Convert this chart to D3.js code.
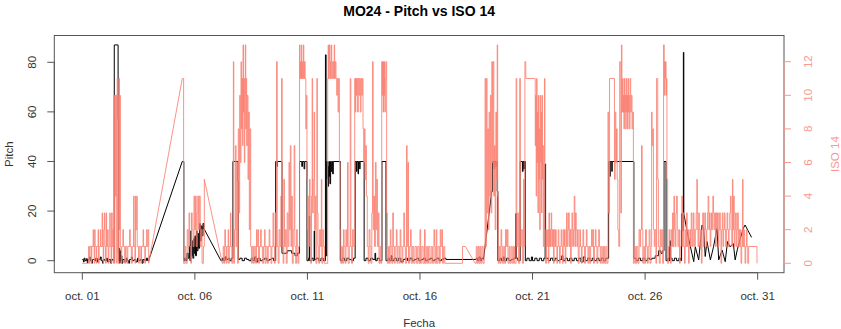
<!DOCTYPE html>
<html>
<head>
<meta charset="utf-8">
<script src="https://cdn.jsdelivr.net/npm/d3@7"></script>
<style>
html,body{margin:0;padding:0;background:#fff;}
svg{display:block;font-family:"Liberation Sans",Arial,sans-serif;}
</style>
</head>
<body>
<svg id="chart" width="841" height="329"></svg>
<script>
// ---- DATA (time = days since oct. 01 00:00; third element 1 = joined by straight line across a data gap) ----
const chartTitle = "MO24 - Pitch vs ISO 14";
const xLabel = "Fecha";
const leftLabel = "Pitch";
const rightLabel = "ISO 14";
const xTickDays = [0, 5, 10, 15, 20, 25, 30];
const pitchTicks = [0, 20, 40, 60, 80];
const isoTicks = [0, 2, 4, 6, 8, 10, 12];

const pitchSeries = [
[0.00,0.5],[0.05,-0.5],[0.08,1],[0.12,0],[0.18,0.8],[0.22,-0.8],[0.25,0.5],[0.32,1.5],[0.35,0],[0.42,-1],[0.45,0.5],[0.55,0],[0.60,1],[0.66,-0.5],[0.70,0.5],[0.80,1.5],[0.84,0],[0.90,-1],[0.93,0.5],[1.00,0],[1.08,1],[1.12,-0.5],[1.18,0.5],[1.26,-1],[1.30,0.5],[1.36,0],
[1.42,87],[1.58,87],[1.59,57],[1.60,3],[1.62,0],[1.64,5],[1.66,-1],[1.68,4],[1.70,0],[1.73,2],[1.76,-1],[1.80,0.5],
[1.88,-0.5],[1.95,1],[2.00,0],[2.06,-1],[2.10,0.5],[2.18,1.5],[2.22,0],[2.30,0.5],[2.38,-0.5],[2.45,1],[2.50,0],[2.58,0.5],[2.66,-1],[2.70,0.5],[2.78,0],[2.85,1],[2.90,0],[2.96,0.5],
[4.44,40,1],[4.51,0],
[4.55,1],[4.60,0],[4.65,3],[4.70,1],[4.75,6],[4.78,0],[4.82,12],[4.84,2],[4.88,8],[4.91,1],[4.95,9],[4.97,3],[5.00,10],[5.03,2],[5.07,12],[5.10,4],[5.14,11],[5.17,5],[5.21,15],[5.24,8],[5.28,14],[5.32,10],[5.36,15],[5.40,13],
[6.16,0,1],[6.22,1],[6.28,0],[6.34,1.5],[6.40,0.5],[6.48,1],[6.55,0],[6.62,1],
[6.69,40],[6.91,32],[6.93,0.5],
[7.00,1],[7.10,0],[7.20,1],[7.30,0.5],[7.40,0],[7.50,1],[7.58,0],[7.65,1.5],[7.72,-0.5],[7.80,1],[7.90,0],[8.00,0.5],[8.10,1],[8.20,0],[8.30,0.5],[8.40,1],[8.50,0],
[8.59,40],[8.65,38],[8.67,40],[8.87,3],[9.10,4],[9.30,3],[9.45,2],[9.55,3],
[9.65,40],[9.75,38],[9.78,40],[9.85,37],[9.88,40],[9.98,0],
[10.05,1],[10.08,18],[10.10,0],[10.18,1],[10.25,0],[10.30,12],[10.32,0.5],[10.40,1],[10.50,0],[10.60,1],[10.70,0],
[10.80,83],[10.83,2],[10.86,40],[10.88,33],[10.90,40],[10.92,30],[10.94,38],[10.96,34],[10.98,40],[11.00,31],[11.03,40],[11.06,36],[11.09,40],[11.12,35],[11.15,40],[11.46,0],
[11.55,1],[11.65,0],[11.75,1],[11.85,0.5],[11.95,0],[12.05,1],
[12.12,40],[12.18,36],[12.20,40],[12.25,35],[12.27,40],[12.32,37],[12.34,40],[12.52,0],
[12.60,1],[12.70,0],[12.80,1],[12.90,0.5],[13.00,3],[13.03,0],[13.10,1],[13.20,0],
[13.31,40],[13.49,0],
[13.58,1],[13.65,0],[13.72,2],[13.76,0],[13.85,1],[13.95,0],[14.05,1],[14.15,-0.5],[14.25,0.5],[14.35,1],[14.45,0],[14.55,1],[14.65,0],[14.75,0.5],[14.85,1],[14.95,0],[15.05,0.5],[15.15,1],[15.25,0],[15.35,0.5],[15.45,1],[15.55,0],[15.65,0.5],[15.75,1],[15.85,0],[15.95,0.5],[16.05,1],[16.15,0.5],
[17.45,0.5,1],[17.50,1],[17.56,0],[17.62,1.5],[17.68,0],[17.74,1],[17.82,0.5],
[18.19,28,1],[18.23,40],[18.30,37],[18.32,40],[18.38,38],[18.40,40],[18.43,28],[18.46,0],
[18.55,1],[18.62,0],[18.70,1.5],[18.75,0],[18.85,1],[18.95,0],[19.05,0.5],[19.15,1],[19.26,19],[19.28,1],[19.35,0],
[19.45,40],[19.55,36],[19.58,40],[19.62,37],[19.64,40],[19.68,0],
[19.75,1],[19.85,0],[19.95,1.5],[20.00,0],[20.10,1],[20.20,0],[20.30,1],[20.40,0],[20.50,1],
[20.56,39],[20.58,1],
[20.70,0],[20.80,1],[20.90,0],[21.00,1],[21.10,0],[21.20,0.5],[21.30,2],[21.35,0],[21.45,1],[21.55,0],[21.65,1],[21.75,0],[21.85,1],[21.95,0],[22.05,1],[22.15,-0.5],[22.25,1.5],[22.35,0],[22.45,1],[22.55,0],[22.65,1],[22.75,0],[22.85,1],[22.95,0],[23.05,1],[23.15,0],[23.25,1],
[23.38,40],[23.43,34],[23.45,40],[23.52,36],[23.54,40],[24.50,1],
[24.60,0],[24.70,1],[24.80,0],[24.90,1],[25.00,0],[25.10,1],[25.20,0.5],[25.30,1],[25.45,2],[25.60,4],[25.70,3],[25.78,4],
[25.84,40],[25.93,0],
[26.00,1],[26.06,0],[26.10,8],[26.13,1],[26.20,0],[26.30,1],[26.40,0],[26.50,1],[26.58,0],[26.62,19],[26.66,12],[26.70,84],[26.72,19],
[26.86,12,1],[27.16,-0.4,1],[27.23,5.6,1],[27.38,0.3,1],[27.53,14.4,1],[27.60,13,1],[27.67,1.7,1],[27.75,7.7,1],[27.90,0.3,1],[28.04,5.6,1],[28.19,13,1],[28.27,0.3,1],[28.42,4.3,1],[28.56,-0.4,1],[28.66,7.7,1],[28.77,5.6,1],[28.92,6.9,1],[29.00,0.3,1],[29.10,4.6,1],[29.21,8.3,1],[29.36,13,1],[29.44,14.4,1],[29.73,9.4,1]
];

const isoSeries = [
[0.00,0],[0.28,1],[0.31,0],[0.34,1],[0.40,0],[0.42,1],[0.48,2],[0.50,1],[0.53,0],[0.55,2],[0.57,1],[0.62,0],[0.64,1],[0.70,2],[0.72,0],[0.75,1],[0.80,2],[0.82,1],[0.88,3],[0.90,1],[0.93,0],[0.95,2],[0.98,3],[1.00,1],[1.03,0],[1.06,3],[1.08,1],[1.12,2],[1.15,0],[1.18,1],[1.22,3],[1.24,1],[1.28,0],[1.30,3],[1.33,1],[1.36,2],[1.38,0],
[1.40,10],[1.43,0],[1.45,10],[1.48,4],[1.50,10],[1.53,0],[1.55,11],[1.58,10],[1.61,0],[1.63,11],[1.65,2],[1.67,10],[1.69,1],
[1.72,0],[1.75,1],[1.80,2],[1.83,1],[1.88,0],[1.92,1],[1.98,0],[2.02,1],[2.10,2],[2.13,1],[2.18,0],[2.22,1],[2.28,4],[2.30,1],[2.34,0],[2.36,4],[2.38,2],[2.42,4],[2.44,1],[2.50,0],[2.53,1],[2.60,0],[2.63,1],[2.70,2],[2.72,1],[2.78,0],[2.80,1],[2.86,2],[2.88,1],[2.92,2],[2.95,0],
[4.44,11,1],[4.50,0],
[4.56,1],[4.60,0],[4.66,2],[4.70,1],[4.74,3],[4.77,1],[4.82,0],[4.85,3],[4.88,2],[4.92,1],[4.96,4],[4.99,2],[5.03,4],[5.06,1],[5.10,3],[5.13,4],[5.16,2],[5.20,4],[5.24,1],[5.28,2],[5.32,0],[5.38,1],[5.42,5],
[6.22,0,1],[6.26,1],[6.30,0],[6.33,2],[6.36,1],[6.40,0],[6.43,1],[6.48,2],[6.50,0],[6.53,1],[6.58,3],[6.60,1],[6.64,0],[6.68,1],
[6.71,12],[6.73,0],[6.76,2],[6.80,7],[6.83,1],[6.86,6],[6.90,0],[6.93,8],[6.96,3],[6.99,10],[7.02,6],[7.05,12],[7.07,8],[7.10,11],[7.12,7],[7.14,13],[7.16,9],[7.18,11],[7.20,6],[7.22,10],[7.24,13],[7.26,8],[7.28,11],[7.30,7],[7.33,10],[7.36,5],[7.39,9],[7.42,2],[7.45,8],[7.48,1],[7.52,0],
[7.55,1],[7.60,0],[7.64,1],[7.70,0],[7.74,2],[7.76,1],[7.80,2],[7.83,0],[7.87,1],[7.92,2],[7.95,1],[8.00,0],[8.05,1],[8.10,2],[8.12,0],[8.16,1],[8.22,0],[8.26,1],[8.30,2],[8.33,1],[8.38,0],[8.42,1],[8.47,3],[8.50,1],[8.54,0],
[8.57,3],[8.60,1],[8.63,12],[8.66,1],[8.70,0],[8.74,2],[8.78,1],[8.82,4],[8.85,11],[8.88,1],[8.92,0],[8.95,5],[8.98,1],[9.02,2],[9.06,0],[9.10,3],[9.14,1],[9.18,6],[9.21,2],[9.24,7],[9.27,1],[9.30,4],[9.33,0],[9.37,2],[9.41,7],[9.44,1],[9.48,0],[9.52,2],[9.55,1],[9.58,0],[9.62,1],
[9.65,13],[9.67,11],[9.69,12],[9.71,11],[9.73,13],[9.75,11],[9.77,12],[9.79,11],[9.82,13],[9.84,11],[9.87,12],[9.90,11],[9.93,8],[9.95,10],[9.98,5],[10.00,2],
[10.03,4],[10.06,1],[10.09,5],[10.12,3],[10.15,0],[10.18,4],[10.21,11],[10.23,3],[10.26,5],[10.30,9],[10.32,2],[10.35,4],[10.38,0],[10.42,11],[10.44,3],[10.47,1],[10.50,0],[10.54,2],[10.58,1],[10.62,5],[10.64,0],[10.68,2],[10.72,1],[10.76,0],
[10.90,11],[10.92,13],[10.94,11],[10.96,12],[10.98,13],[11.00,11],[11.02,12],[11.04,11],[11.06,13],[11.08,12],[11.10,11],[11.13,12],[11.16,11],[11.19,13],[11.21,11],[11.24,12],[11.27,11],[11.30,10],[11.33,11],[11.36,9],[11.39,11],[11.42,6],[11.45,2],
[11.48,0],[11.52,1],[11.56,0],[11.60,2],[11.63,1],[11.67,0],[11.71,2],[11.74,1],[11.78,6],[11.81,0],[11.86,1],[11.90,11],[11.93,1],[11.96,0],[12.00,2],[12.04,1],
[12.10,11],[12.13,9],[12.15,11],[12.18,10],[12.20,11],[12.23,9],[12.26,11],[12.29,10],[12.32,11],[12.35,9],[12.38,11],[12.41,10],[12.44,11],[12.47,8],[12.50,6],[12.53,8],[12.56,5],[12.59,7],[12.62,4],[12.66,1],
[12.70,0],[12.74,2],[12.78,1],[12.82,0],[12.86,3],[12.89,12],[12.92,2],[12.95,4],[12.98,1],[13.02,6],[13.05,2],[13.08,5],[13.11,1],[13.15,3],[13.18,0],[13.22,1],[13.26,0],
[13.30,12],[13.32,10],[13.34,12],[13.36,9],[13.38,12],[13.40,10],[13.42,12],[13.44,9],[13.46,11],[13.49,12],[13.52,3],[13.55,0],
[13.60,1],[13.64,0],[13.68,2],[13.71,1],[13.75,0],[13.79,3],[13.82,1],[13.86,0],[13.90,1],[13.95,2],[13.98,0],[14.02,1],[14.08,0],[14.12,2],[14.15,1],[14.20,0],[14.24,1],[14.28,3],[14.31,1],[14.35,0],[14.40,7],[14.43,1],[14.46,6],[14.49,0],[14.53,1],[14.58,2],[14.61,0],[14.66,1],[14.72,0],[14.78,1],[14.85,0],[14.90,1],[14.96,0],[15.00,2],[15.03,0],[15.08,1],[15.14,0],[15.20,2],[15.23,0],[15.28,1],[15.33,0],[15.38,1],[15.44,0],[15.50,1],[15.56,0],[15.62,2],[15.65,1],[15.68,0],[15.72,2],[15.75,0],[15.80,1],[15.86,0],[15.90,2],[15.93,1],[15.97,2],[16.00,0],[16.05,1],[16.10,0],
[16.88,0,1],[16.89,1],[17.02,1],[17.45,0,1],
[17.50,1],[17.54,0],[17.58,1],[17.62,0],[17.66,1],[17.70,0],[17.75,1],[17.80,0],[17.85,1],
[17.89,11],[17.92,1],[17.95,11],[17.98,3],[18.01,8],[18.04,2],[18.07,9],[18.10,4],[18.13,10],[18.16,3],[18.19,12],[18.22,6],[18.25,12],[18.28,4],[18.31,7],[18.34,2],[18.37,9],[18.40,5],[18.43,13],[18.45,4],[18.48,0],
[18.52,1],[18.56,0],[18.60,2],[18.63,1],[18.67,0],[18.72,1],[18.76,0],[18.80,2],[18.84,1],[18.88,2],[18.91,0],[18.96,1],[19.00,0],[19.05,1],[19.10,0],[19.15,1],[19.20,0],
[19.27,11],[19.30,1],[19.34,3],[19.38,0],[19.43,11],[19.46,1],[19.50,2],[19.55,0],[19.60,5],[19.63,1],[19.66,12],[19.70,11],[20.10,11],[20.12,7],[20.14,10],[20.16,4],[20.18,11],[20.20,6],[20.22,9],[20.24,3],[20.26,10],[20.28,5],[20.30,8],[20.32,2],[20.34,10],[20.36,6],[20.38,9],[20.40,3],[20.42,10],[20.44,5],[20.46,7],[20.48,1],[20.51,6],[20.53,11],[20.55,2],[20.58,0],
[20.62,2],[20.65,1],[20.68,2],[20.70,0],[20.73,3],[20.75,1],[20.78,2],[20.80,1],[20.83,3],[20.85,2],[20.88,1],[20.90,2],[20.93,0],[20.96,2],[20.99,1],[21.02,2],[21.05,1],[21.08,0],[21.11,1],[21.14,2],[21.17,1],[21.20,0],[21.23,1],[21.27,2],[21.30,1],[21.33,0],[21.36,2],[21.39,1],[21.42,2],[21.45,0],[21.48,1],[21.51,3],[21.54,1],[21.57,2],[21.60,3],[21.63,1],[21.66,2],[21.69,0],[21.72,2],[21.75,3],[21.78,1],[21.82,2],[21.85,4],[21.88,1],[21.91,3],[21.94,2],[21.97,1],[22.00,2],[22.03,0],[22.07,1],[22.10,2],[22.13,1],[22.17,0],[22.20,1],[22.24,2],[22.27,1],[22.31,0],[22.35,1],[22.39,2],[22.42,1],[22.46,0],[22.50,1],[22.54,0],[22.58,1],[22.62,2],[22.65,1],[22.68,2],[22.71,0],[22.75,1],[22.79,2],[22.82,1],[22.86,0],[22.90,1],[22.94,2],[22.97,1],[23.01,0],[23.05,1],[23.10,0],[23.15,1],[23.20,0],[23.25,1],[23.30,0],
[23.35,9],[23.38,3],[23.42,11],[23.62,11],[23.64,5],[23.67,9],[23.70,6],[23.73,8],[23.76,5],[23.79,2],[23.83,1],[23.87,12],[23.92,3],[23.95,13],[23.97,9],[24.00,11],[24.02,9],[24.04,10],[24.06,8],[24.08,11],[24.10,9],[24.12,10],[24.14,8],[24.16,11],[24.18,9],[24.20,10],[24.22,8],[24.24,11],[24.26,9],[24.28,10],[24.30,8],[24.33,11],[24.36,9],[24.39,10],[24.42,8],[24.45,9],[24.48,0],
[24.52,1],[24.57,0],[24.62,1],[24.68,0],[24.73,2],[24.77,1],[24.80,2],[24.84,7],[24.87,2],[24.90,0],[24.94,1],[24.98,0],[25.02,2],[25.06,1],[25.10,0],[25.14,1],[25.18,2],[25.22,0],[25.26,1],[25.29,9],[25.31,7],[25.34,8],[25.37,2],[25.41,1],[25.44,2],[25.48,0],[25.51,11],[25.54,11],[25.56,5],[25.59,1],[25.63,0],[25.67,2],[25.70,1],[25.74,2],[25.78,0],
[25.82,13],[25.85,10],[25.87,12],[25.89,11],[25.91,12],[25.93,10],[25.95,11],[25.97,5],[26.00,0],
[26.04,1],[26.07,2],[26.10,1],[26.13,0],[26.16,2],[26.19,1],[26.22,3],[26.25,1],[26.28,4],[26.31,2],[26.34,1],[26.37,3],[26.40,4],[26.43,2],[26.46,1],[26.50,2],[26.53,0],[26.56,1],[26.60,2],[26.63,4],[26.66,1],[26.69,3],[26.72,1],[26.75,0],[26.78,2],[26.81,1],[26.84,3],[26.87,1],[26.90,2],[26.93,0],[26.96,1],[26.99,2],[27.02,1],[27.05,3],[27.08,2],[27.11,1],[27.14,3],[27.17,2],[27.20,1],[27.23,2],[27.27,3],[27.30,5],[27.32,2],[27.35,1],[27.38,3],[27.41,2],[27.44,1],[27.47,2],[27.50,0],[27.53,2],[27.56,3],[27.59,1],[27.62,2],[27.65,3],[27.68,2],[27.71,1],[27.74,2],[27.77,3],[27.80,4],[27.83,2],[27.86,3],[27.89,1],[27.92,2],[27.95,3],[27.98,2],[28.01,4],[28.04,3],[28.07,2],[28.10,3],[28.13,1],[28.16,3],[28.19,2],[28.22,3],[28.25,1],[28.28,2],[28.31,3],[28.34,2],[28.37,0],[28.40,2],[28.43,3],[28.46,1],[28.49,2],[28.52,3],[28.55,2],[28.58,1],[28.61,2],[28.64,3],[28.67,2],[28.70,1],[28.73,2],[28.76,3],[28.79,4],[28.82,2],[28.85,1],[28.88,5],[28.90,2],[28.93,4],[28.96,1],[28.99,2],[29.02,3],[29.05,1],[29.08,2],[29.11,3],[29.14,1],[29.17,2],[29.20,1],[29.23,2],[29.26,0],[29.29,1],[29.33,5],[29.35,1],[29.38,2],[29.41,1],[29.44,0],[29.47,1],[29.50,2],[29.53,1],[29.56,0],[29.60,1],[29.96,1],[29.97,0]
];

// ---- CHART ----
const W = 841, H = 329;
const box = {left: 54.3, right: 784, top: 35.5, bottom: 272.7};
const t0 = Date.UTC(2024, 9, 1);
const dayMs = 86400000;
const toDate = d => new Date(t0 + d * dayMs);

const x = d3.scaleUtc()
  .domain([toDate(-1.244), toDate(31.17)])
  .range([box.left, box.right]);
const yL = d3.scaleLinear().domain([-4.84, 90.8]).range([box.bottom, box.top]);
const yR = d3.scaleLinear().domain([-0.56, 13.56]).range([box.bottom, box.top]);

const svg = d3.select("#chart");
svg.append("rect").attr("width", W).attr("height", H).attr("fill", "#fff");

// turn held (step) readings into a polyline, straight joins across gaps
function toPath(series) {
  const out = [];
  series.forEach((p, i) => {
    if (i > 0 && !p[2]) out.push([p[0], series[i - 1][1]]);
    out.push([p[0], p[1]]);
  });
  return out;
}

svg.append("clipPath").attr("id", "clip")
  .append("rect").attr("x", box.left).attr("y", box.top)
  .attr("width", box.right - box.left).attr("height", box.bottom - box.top);

const plot = svg.append("g").attr("clip-path", "url(#clip)");

const linePitch = d3.line().x(d => x(toDate(d[0]))).y(d => yL(d[1]));
const lineIso = d3.line().x(d => x(toDate(d[0]))).y(d => yR(d[1]));

plot.append("path")
  .datum(toPath(pitchSeries))
  .attr("d", linePitch)
  .attr("fill", "none")
  .attr("stroke", "#000")
  .attr("stroke-width", 1);

plot.append("path")
  .datum(toPath(isoSeries))
  .attr("d", lineIso)
  .attr("fill", "none")
  .attr("stroke", "#FA8072")
  .attr("stroke-width", 1)
  .attr("stroke-opacity", 0.85);

// box
svg.append("rect")
  .attr("x", box.left).attr("y", box.top)
  .attr("width", box.right - box.left).attr("height", box.bottom - box.top)
  .attr("fill", "none").attr("stroke", "#555").attr("stroke-width", 1);

const axisColor = "#555";
const textColor = "#333";
const pink = "#F79A90";

// bottom axis
const xTicks = xTickDays.map(toDate);
const fmtDay = d3.utcFormat("%d");
const gx = svg.append("g");
gx.append("line")
  .attr("x1", x(xTicks[0])).attr("x2", x(xTicks[xTicks.length - 1]))
  .attr("y1", box.bottom).attr("y2", box.bottom)
  .attr("stroke", axisColor);
gx.selectAll("line.t").data(xTicks).join("line").attr("class", "t")
  .attr("x1", d => x(d)).attr("x2", d => x(d))
  .attr("y1", box.bottom).attr("y2", box.bottom + 7)
  .attr("stroke", axisColor);
gx.selectAll("text").data(xTicks).join("text")
  .attr("x", d => x(d)).attr("y", 300)
  .attr("text-anchor", "middle")
  .attr("font-size", 11.5).attr("fill", textColor)
  .text(d => "oct. " + fmtDay(d));

// left axis
const gl = svg.append("g");
gl.append("line")
  .attr("x1", box.left).attr("x2", box.left)
  .attr("y1", yL(pitchTicks[0])).attr("y2", yL(pitchTicks[pitchTicks.length - 1]))
  .attr("stroke", axisColor);
gl.selectAll("line.t").data(pitchTicks).join("line").attr("class", "t")
  .attr("x1", box.left).attr("x2", box.left - 7)
  .attr("y1", d => yL(d)).attr("y2", d => yL(d))
  .attr("stroke", axisColor);
gl.selectAll("text").data(pitchTicks).join("text")
  .attr("transform", d => `translate(36,${yL(d)}) rotate(-90)`)
  .attr("text-anchor", "middle")
  .attr("font-size", 11.5).attr("fill", textColor)
  .text(d => d);

// right axis
const gr = svg.append("g");
gr.append("line")
  .attr("x1", box.right).attr("x2", box.right)
  .attr("y1", yR(isoTicks[0])).attr("y2", yR(isoTicks[isoTicks.length - 1]))
  .attr("stroke", pink);
gr.selectAll("line.t").data(isoTicks).join("line").attr("class", "t")
  .attr("x1", box.right).attr("x2", box.right + 7)
  .attr("y1", d => yR(d)).attr("y2", d => yR(d))
  .attr("stroke", pink);
gr.selectAll("text").data(isoTicks).join("text")
  .attr("transform", d => `translate(812,${yR(d)}) rotate(-90)`)
  .attr("text-anchor", "middle")
  .attr("font-size", 11.5).attr("fill", pink)
  .text(d => d);

// titles
svg.append("text")
  .attr("x", (box.left + box.right) / 2).attr("y", 16)
  .attr("text-anchor", "middle")
  .attr("font-size", 14).attr("font-weight", "bold").attr("fill", "#000")
  .text(chartTitle);
svg.append("text")
  .attr("x", (box.left + box.right) / 2).attr("y", 327)
  .attr("text-anchor", "middle")
  .attr("font-size", 11.5).attr("fill", textColor)
  .text(xLabel);
svg.append("text")
  .attr("transform", `translate(13,${(box.top + box.bottom) / 2}) rotate(-90)`)
  .attr("text-anchor", "middle")
  .attr("font-size", 11.5).attr("fill", textColor)
  .text(leftLabel);
svg.append("text")
  .attr("transform", `translate(839,${(box.top + box.bottom) / 2}) rotate(-90)`)
  .attr("text-anchor", "middle")
  .attr("font-size", 11.5).attr("fill", pink)
  .text(rightLabel);
</script>
</body>
</html>
